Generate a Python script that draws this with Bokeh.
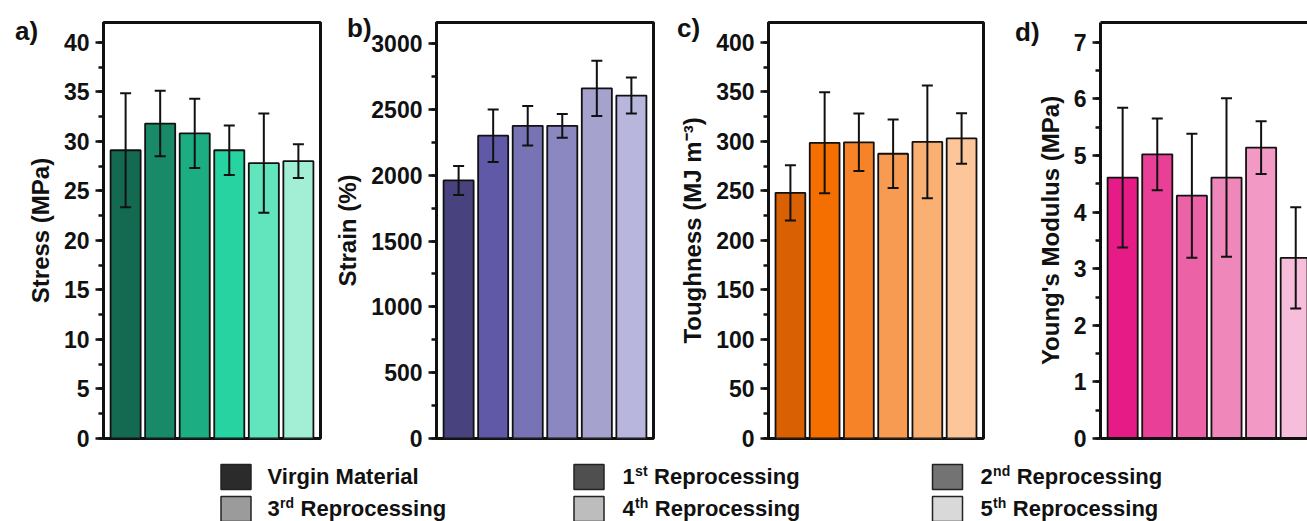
import re
from bokeh.plotting import figure
from bokeh.layouts import column, row
from bokeh.models import (Range1d, SingleIntervalTicker, FixedTicker, ColumnDataSource,
                          Whisker, TeeHead, LinearAxis, Div)
from bokeh.core.properties import value
from bokeh.embed import file_html
from bokeh.resources import INLINE

FONT = "Liberation Sans"

# ---------------- data ----------------
stages = [1, 2, 3, 4, 5, 6]
panel_letters = ["a)", "b)", "c)", "d)"]
legend_labels = ["Virgin Material", "1st Reprocessing", "2nd Reprocessing",
                 "3rd Reprocessing", "4th Reprocessing", "5th Reprocessing"]
legend_colors = ["#2b2b2b", "#4f4f4f", "#737373", "#9b9b9b", "#bdbdbd", "#d9d9d9"]

stress = [29.1, 31.8, 30.8, 29.1, 27.8, 28.0]
stress_err = [5.75, 3.3, 3.5, 2.5, 5.0, 1.7]
stress_colors = ["#136a50", "#198a68", "#1cae82", "#26d3a1", "#62e4bc", "#a2efd6"]

strain = [1960, 2300, 2375, 2375, 2660, 2605]
strain_err = [110, 200, 150, 90, 210, 137]
strain_colors = ["#48437f", "#5f59a7", "#7873b5", "#8b87c1", "#a5a2cd", "#b8b6dc"]

toughness = [248, 298.5, 299, 287.5, 299.5, 303]
toughness_err = [28, 51, 29, 34.5, 57, 25.5]
toughness_colors = ["#da6103", "#f56e00", "#f68328", "#f89b52", "#fab073", "#fcc69a"]

modulus = [4.61, 5.02, 4.29, 4.61, 5.14, 3.19]
modulus_err = [1.235, 0.635, 1.095, 1.4, 0.465, 0.895]
modulus_colors = ["#e61b86", "#ea3f96", "#ec62a6", "#f087ba", "#f29ac5", "#f7bedb"]

FRAME_H = 416


def make_panel(ylabel, vals, errs, colors, ymax, interval,
               frame_w, b_left, b_right, xmax=6.64, full_outline=True):
    p = figure(frame_width=frame_w, frame_height=FRAME_H,
               min_border_left=b_left, min_border_right=b_right,
               min_border_top=22, min_border_bottom=17,
               x_range=Range1d(0.36, xmax), y_range=Range1d(0, ymax),
               output_backend="svg", toolbar_location=None)
    p.xgrid.visible = False
    p.ygrid.visible = False
    p.background_fill_color = "white"
    p.border_fill_color = "white"

    src = ColumnDataSource(dict(
        x=stages, top=vals, color=colors,
        upper=[v + e for v, e in zip(vals, errs)],
        lower=[v - e for v, e in zip(vals, errs)],
    ))
    p.vbar(x="x", top="top", bottom=0, width=0.87, fill_color="color",
           line_color="#111111", line_width=1.8, source=src)
    w = Whisker(source=src, base="x", upper="upper", lower="lower",
                line_color="#111111", line_width=2, level="annotation",
                upper_head=TeeHead(size=11, line_width=2, line_color="#111111"),
                lower_head=TeeHead(size=11, line_width=2, line_color="#111111"))
    p.add_layout(w)

    ax = p.yaxis[0]
    ax.ticker = SingleIntervalTicker(interval=interval, num_minor_ticks=2)
    ax.axis_label = ylabel
    ax.axis_label_text_font = FONT
    ax.axis_label_text_font_style = "bold"
    ax.axis_label_text_font_size = "24px"
    ax.axis_label_text_color = "#111111"
    ax.axis_label_standoff = 7
    ax.major_label_text_font = FONT
    ax.major_label_text_font_style = "bold"
    ax.major_label_text_font_size = "23px"
    ax.major_label_text_color = "#111111"
    ax.major_label_standoff = 6
    ax.major_tick_in = 0
    ax.major_tick_out = 8
    ax.minor_tick_in = 0
    ax.minor_tick_out = 5
    ax.major_tick_line_width = 2.5
    ax.minor_tick_line_width = 2.5
    ax.major_tick_line_color = "#111111"
    ax.minor_tick_line_color = "#111111"
    ax.axis_line_width = 3
    ax.axis_line_color = "#111111"

    if full_outline:
        p.xaxis.visible = False
        p.outline_line_color = "#111111"
        p.outline_line_width = 3
        p.outline_line_alpha = 1
    else:
        p.outline_line_color = None
        xb = p.xaxis[0]
        xb.ticker = FixedTicker(ticks=[])
        xb.major_tick_line_color = None
        xb.minor_tick_line_color = None
        xb.axis_line_width = 3
        xb.axis_line_color = "#111111"
        top_ax = LinearAxis(ticker=FixedTicker(ticks=[]), axis_line_width=3,
                            axis_line_color="#111111",
                            major_tick_line_color=None, minor_tick_line_color=None)
        p.add_layout(top_ax, "above")
    return p


pa = make_panel("Stress (MPa)", stress, stress_err, stress_colors, 42, 5, 217, 103, 10)
pb = make_panel("Strain (%)", strain, strain_err, strain_colors, 3160, 500, 217, 106, 7)
pc = make_panel("Toughness (MJ m\u207b\u00b3)", toughness, toughness_err, toughness_colors,
                420, 50, 215, 108, 7)
pd = make_panel("Young's Modulus (MPa)", modulus, modulus_err, modulus_colors, 7.35, 1,
                207, 110, 0, xmax=6.34, full_outline=False)

# ---------------- legend ----------------
lg = figure(frame_width=1307, frame_height=66, x_range=Range1d(0, 1307), y_range=Range1d(521, 455),
            min_border=0, min_border_left=0, min_border_right=0, min_border_top=0, min_border_bottom=0,
            output_backend="svg", toolbar_location=None)
lg.axis.visible = False
lg.xgrid.visible = False
lg.ygrid.visible = False
lg.outline_line_color = None

col_sq_x = [235.5, 588.5, 947]
col_tx_x = [267, 622, 980]
row_sq_y = [476.5, 508.5]
row_mid_y = [475.5, 507.5]

sq_x, sq_y = [], []
main_x, main_y, main_t = [], [], []
sup_x, sup_y, sup_t = [], [], []
sup_w = {"st": 12.5, "nd": 17.1, "rd": 14.0, "th": 13.2}
for i, lab in enumerate(legend_labels):
    c, r = i % 3, i // 3
    sq_x.append(col_sq_x[c]); sq_y.append(row_sq_y[r])
    m = re.match(r"^(\d)(st|nd|rd|th)\s(.*)$", lab)
    x0, ym = col_tx_x[c], row_mid_y[r]
    if m:
        main_x.append(x0); main_y.append(ym); main_t.append(m.group(1))
        sup_x.append(x0 + 12.6); sup_y.append(ym - 5.5); sup_t.append(m.group(2))
        main_x.append(x0 + 12.6 + sup_w[m.group(2)] + 6.5); main_y.append(ym); main_t.append(m.group(3))
    else:
        main_x.append(x0); main_y.append(ym); main_t.append(lab)

lg.rect(x=sq_x, y=sq_y, width=30, height=25, fill_color=legend_colors,
        line_color="#222222", line_width=1.5)
lg.text(x=main_x, y=main_y, text=main_t,
        text_font=value(FONT), text_font_style="bold", text_font_size="22px",
        text_color="#111111", text_align="left", text_baseline="middle")
lg.text(x=sup_x, y=sup_y, text=sup_t,
        text_font=value(FONT), text_font_style="bold", text_font_size="14px",
        text_color="#111111", text_align="left", text_baseline="middle")

# ---------------- panel letters (sit over the axis borders) ----------------
letter_pos = [(10, 11), (342, 8), (672, 8), (1010, 12)]
letters_html = "".join(
    f'<span style="position:absolute;left:{x}px;top:{y}px;white-space:nowrap;">{t}</span>'
    for t, (x, y) in zip(panel_letters, letter_pos))
letters = Div(text=letters_html, width=1, height=1,
              styles={"position": "absolute", "left": "0px", "top": "0px",
                      "font-family": "'Liberation Sans', Arial, sans-serif",
                      "font-weight": "bold", "font-size": "26px", "color": "#111111",
                      "z-index": "10", "overflow": "visible", "line-height": "normal"})

layout = column(row(pa, pb, pc, pd), lg, letters)
open("out.html", "w").write(file_html(layout, INLINE))
